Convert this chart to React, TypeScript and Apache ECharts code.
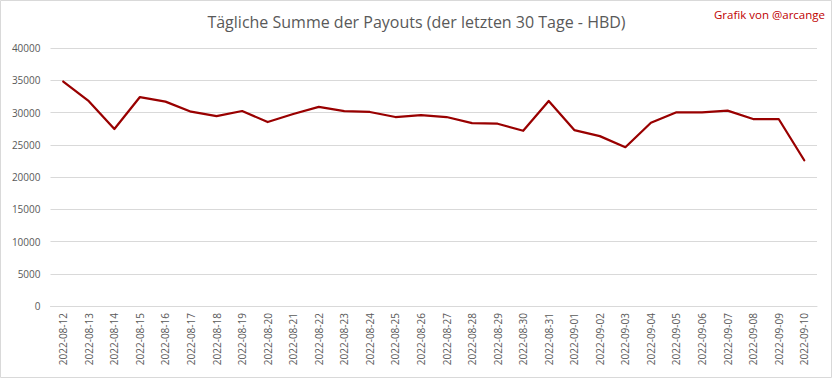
import React, { useEffect, useRef } from "react";
import * as echarts from "echarts";

const dates = [
  "2022-08-12", "2022-08-13", "2022-08-14", "2022-08-15", "2022-08-16", "2022-08-17",
  "2022-08-18", "2022-08-19", "2022-08-20", "2022-08-21", "2022-08-22", "2022-08-23",
  "2022-08-24", "2022-08-25", "2022-08-26", "2022-08-27", "2022-08-28", "2022-08-29",
  "2022-08-30", "2022-08-31", "2022-09-01", "2022-09-02", "2022-09-03", "2022-09-04",
  "2022-09-05", "2022-09-06", "2022-09-07", "2022-09-08", "2022-09-09", "2022-09-10",
];

const payouts = [
  34800, 31750, 27450, 32400, 31680, 30120, 29450, 30230, 28520, 29770,
  30860, 30230, 30080, 29300, 29610, 29300, 28360, 28260, 27170, 31790,
  27270, 26340, 24620, 28410, 30030, 30030, 30280, 28990, 28990, 22600,
];

const yMin = 0;
const yMax = 40000;
const yStep = 5000;

const titleText = "Tägliche Summe der Payouts (der letzten 30 Tage - HBD)";
const creditText = "Grafik von @arcange";

export default function App() {
  const ref = useRef<HTMLDivElement>(null);
  useEffect(() => {
    document.body.style.margin = "0";
    if (!ref.current) return;
    const chart = echarts.init(ref.current, undefined, { renderer: "svg" });
    const font = "Open Sans";
    chart.setOption({
      animation: false,
      backgroundColor: "#ffffff",
      title: {
        text: titleText,
        left: "center",
        top: 9,
        textStyle: { fontFamily: font, fontSize: 16, fontWeight: "normal", color: "#595959" },
      },
      graphic: [
        {
          type: "rect",
          shape: { x: 0.5, y: 0.5, width: 831, height: 377 },
          style: { fill: "none", stroke: "#d9d9d9", lineWidth: 1 },
          silent: true,
        },
        {
          type: "text",
          right: 8,
          top: 8,
          style: { text: creditText, fill: "#c00000", fontFamily: font, fontSize: 11.5 },
        },
      ],
      grid: { left: 50.5, right: 16, top: 48, bottom: 73, containLabel: false },
      xAxis: {
        type: "category",
        data: dates,
        boundaryGap: true,
        axisLine: { show: true, lineStyle: { color: "#d9d9d9", width: 1 } },
        axisTick: { show: false },
        axisLabel: {
          rotate: 90,
          interval: 0,
          margin: 7,
          color: "#595959",
          fontFamily: font,
          fontSize: 10,
        },
        splitLine: { show: false },
      },
      yAxis: {
        type: "value",
        min: yMin,
        max: yMax,
        interval: yStep,
        axisLine: { show: false },
        axisTick: { show: false },
        axisLabel: {
          color: "#595959",
          fontFamily: font,
          fontSize: 10,
          margin: 10,
          formatter: (v: number) => String(v),
        },
        splitLine: { show: true, lineStyle: { color: "#d9d9d9", width: 1 } },
      },
      series: [
        {
          type: "line",
          data: payouts,
          symbol: "none",
          smooth: false,
          lineStyle: { color: "#990000", width: 2.25, cap: "round", join: "round" },
          itemStyle: { color: "#990000" },
        },
      ],
    });
    return () => chart.dispose();
  }, []);
  return <div ref={ref} style={{ width: 833, height: 379 }} />;
}
